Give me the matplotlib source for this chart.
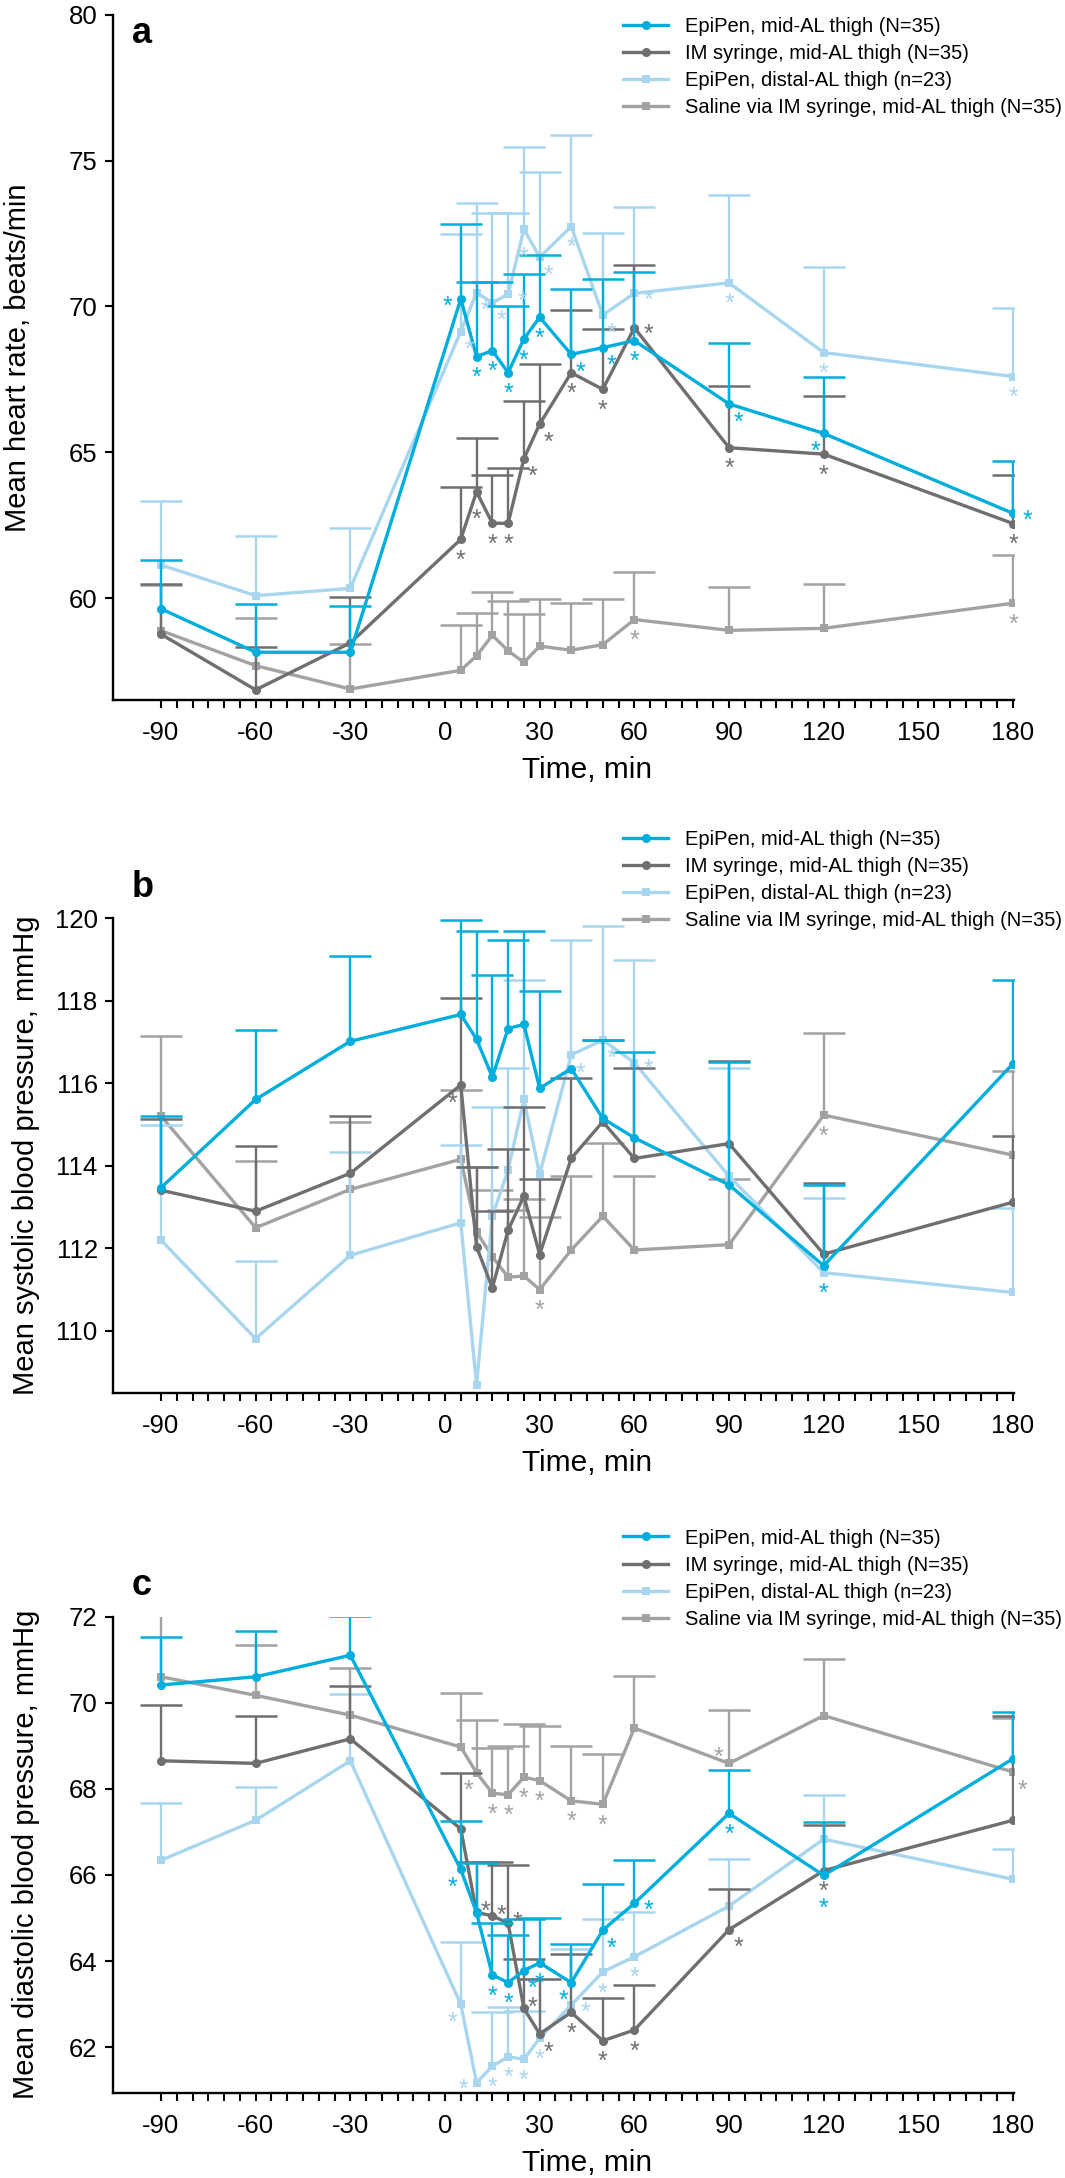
import matplotlib
matplotlib.use("Agg")
import matplotlib.pyplot as plt
import matplotlib.transforms as mtransforms
import numpy as np

plt.rcParams['font.family'] = ['Liberation Sans', 'DejaVu Sans']
plt.rcParams['axes.unicode_minus'] = False

# ---- data -------------------------------------------------------------
times = [-90, -60, -30, 5, 10, 15, 20, 25, 30, 40, 50, 60, 90, 120, 180]
x_ticks = [-90, -60, -30, 0, 30, 60, 90, 120, 150, 180]

labels = [
    "EpiPen, mid-AL thigh (N=35)",
    "IM syringe, mid-AL thigh (N=35)",
    "EpiPen, distal-AL thigh (n=23)",
    "Saline via IM syringe, mid-AL thigh (N=35)",
]

nan = float("nan")

# a: heart rate, beats/min (mean and SE)
hr_epi_mid = [59.64, 58.15, 58.15, 70.26, 68.28, 68.49, 67.73, 68.89, 69.63, 68.36, 68.59, 68.83, 66.66, 65.65, 62.91]
hr_epi_mid_se = [1.67, 1.65, 1.60, 2.56, 2.55, 2.34, 2.30, 2.23, 2.12, 2.24, 2.34, 2.34, 2.10, 1.95, 1.81]
hr_im = [58.77, 56.86, 58.47, 62.02, 63.65, 62.57, 62.57, 64.78, 65.97, 67.73, 67.16, 69.27, 65.16, 64.94, 62.56]
hr_im_se = [1.72, 1.48, 1.57, 1.78, 1.83, 1.66, 1.88, 1.98, 2.05, 2.15, 2.07, 2.15, 2.13, 1.98, 1.66]
hr_epi_dist = [61.14, 60.09, 60.34, 69.14, 70.47, 70.13, 70.42, 72.65, 71.69, 72.74, 69.71, 70.45, 70.81, 68.42, 67.60]
hr_epi_dist_se = [2.21, 2.06, 2.08, 3.35, 3.09, 3.06, 2.77, 2.81, 2.92, 3.14, 2.80, 2.95, 3.00, 2.92, 2.36]
hr_saline = [58.89, 57.69, 56.89, 57.53, 58.03, 58.73, 58.20, 57.80, 58.36, 58.22, 58.41, 59.27, 58.90, 58.97, 59.83]
hr_saline_se = [1.56, 1.62, 1.54, 1.54, 1.47, 1.49, 1.72, 1.66, 1.61, 1.61, 1.56, 1.63, 1.49, 1.52, 1.66]

hr_stars_epi_mid = [(5, 'l'), (10, 'b'), (15, 'b'), (20, 'b'), (25, 'b'), (30, 'b'), (40, 'br'),
                    (50, 'br'), (60, 'b'), (90, 'br'), (120, 'bl'), (180, 'r')]
hr_stars_im = [(5, 'b'), (10, 'bb'), (15, 'b'), (20, 'b'), (25, 'br'), (30, 'br'), (40, 'b'),
               (50, 'b'), (60, 'r'), (90, 'b'), (120, 'b'), (180, 'b')]
hr_stars_epi_dist = [(5, 'br'), (10, 'br'), (15, 'br'), (20, 'r'), (25, 'bb'), (30, 'br'), (40, 'b'),
                     (50, 'br'), (60, 'r'), (90, 'b'), (120, 'b'), (180, 'b')]
hr_stars_saline = [(60, 'b'), (180, 'b')]

# b: systolic blood pressure, mmHg
sbp_epi_mid = [113.47, 115.61, 117.02, 117.67, 117.07, 116.15, 117.33, 117.43, 115.88, 116.36, 115.15, 114.68, 113.54, 111.58, 116.48]
sbp_epi_mid_se = [1.74, 1.69, 2.08, 2.29, 2.63, 2.48, 2.15, 2.27, 2.37, nan, 1.90, 2.09, 2.97, 1.95, 2.02]
sbp_im = [113.41, 112.90, 113.82, 115.96, 112.04, 111.04, 112.44, 113.27, 111.85, 114.18, 115.07, 114.18, 114.54, 111.86, 113.12]
sbp_im_se = [1.73, 1.58, 1.40, 2.10, 1.94, 1.86, 1.98, 2.16, 1.83, 1.94, 1.98, 2.20, 2.01, 1.73, 1.61]
sbp_epi_dist = [112.20, 109.81, 111.83, 112.62, 108.69, 112.78, 113.90, 115.61, 113.80, 116.69, 117.05, 116.50, 113.75, 111.41, 110.93]
sbp_epi_dist_se = [2.79, 1.89, 2.51, 1.88, nan, 2.65, 2.48, 2.89, nan, 2.79, 2.77, 2.49, 2.63, 1.82, 2.04]
sbp_saline = [115.21, 112.50, 113.43, 114.16, 112.40, 111.80, 111.30, 111.33, 111.00, 111.96, 112.78, 111.96, 112.09, 115.23, 114.26]
sbp_saline_se = [1.95, 1.62, 1.64, 1.69, 1.58, 1.61, 1.63, 1.87, 1.77, 1.79, 1.77, 1.79, 1.58, 1.99, 2.05]

sbp_stars_epi_mid = [(120, 'bb')]
sbp_stars_im = [(5, 'bl')]
sbp_stars_epi_dist = [(40, 'br'), (50, 'br'), (60, 'r')]
sbp_stars_saline = [(30, 'b'), (120, 'b')]

# c: diastolic blood pressure, mmHg
dbp_epi_mid = [70.41, 70.60, 71.10, 66.13, 65.12, 63.68, 63.50, 63.78, 63.96, 63.50, 64.72, 65.34, 67.43, 65.99, 68.70]
dbp_epi_mid_se = [1.11, 1.07, 0.91, 1.12, 1.15, 1.20, 1.10, 1.19, 1.03, 0.90, 1.08, 1.01, 1.00, 1.25, 1.09]
dbp_im = [68.65, 68.59, 69.16, 67.07, 65.13, 65.05, 64.88, 62.90, 62.31, 62.81, 62.15, 62.40, 64.73, 66.10, 67.27]
dbp_im_se = [1.29, 1.10, 1.23, 1.29, 1.18, 1.24, 1.34, 1.14, 1.27, 1.35, 0.99, 1.04, 0.95, 1.05, 2.43]
dbp_epi_dist = [66.34, 67.27, 68.65, 63.00, 61.18, 61.56, 61.78, 61.72, 62.21, 62.98, 63.75, 64.10, 65.28, 66.83, 65.90]
dbp_epi_dist_se = [1.32, 0.78, 1.54, 1.44, nan, 1.26, 1.16, 1.13, 1.37, 1.29, 1.22, 1.05, 1.09, 1.02, 0.71]
dbp_saline = [70.60, 70.17, 69.71, 68.97, 68.37, 67.90, 67.86, 68.27, 68.19, 67.72, 67.64, 69.41, 68.59, 69.70, 68.39]
dbp_saline_se = [1.45, 1.16, 1.09, 1.26, 1.23, 1.04, 1.13, 1.24, 1.26, 1.27, 1.16, 1.22, 1.25, 1.32, 1.26]

dbp_stars_epi_mid = [(5, 'bl'), (15, 'b'), (20, 'b'), (25, 'br'), (30, 'b'), (40, 'bl'), (50, 'br'),
                     (60, 'r'), (90, 'b'), (120, 'bbb')]
dbp_stars_im = [(10, 'ar'), (15, 'ar'), (20, 'ar'), (25, 'ar'), (30, 'br'), (40, 'b'), (50, 'b'),
                (60, 'b'), (90, 'br'), (120, 'b')]
dbp_stars_epi_dist = [(5, 'bl'), (10, 'l'), (15, 'b'), (20, 'b'), (25, 'b'), (30, 'b'), (40, 'r'),
                      (50, 'b'), (60, 'b')]
dbp_stars_saline = [(10, 'bl'), (15, 'b'), (20, 'b'), (25, 'b'), (30, 'b'), (40, 'b'), (50, 'b'),
                    (90, 'al'), (180, 'br')]

# ---- style ------------------------------------------------------------
C_EPI_MID = '#00AEDD'
C_IM = '#6F6F71'
C_EPI_DIST = '#A8D6EE'
C_SALINE = '#A2A2A2'

STAR_FS = 18
# star offsets from the point, in pixels (right, down)
STAR_OFFSETS = {'b': (0, 14), 'bb': (0, 21), 'bbb': (0, 26), 'br': (9, 11), 'bl': (-8, 11),
                'r': (14, 0), 'l': (-13, 0), 'ar': (9, -8), 'al': (-11, -13)}

W, H = 1065, 2178
fig = plt.figure(figsize=(W / 100, H / 100), dpi=100)


def add_series(ax, mean, se, color, marker, ms, z):
    n = len(times)
    err = np.array([np.zeros(n), np.array(se, dtype=float)])
    _, caps, _ = ax.errorbar(times, mean, yerr=err, fmt='none', ecolor=color,
                             elinewidth=1.7, capsize=15, capthick=1.8, zorder=z)
    caps[0].set_visible(False)
    line, = ax.plot(times, mean, color=color, lw=2.4, marker=marker, ms=ms,
                    markeredgewidth=0, zorder=z + 0.5)
    return line


def add_stars(ax, mean, stars, color):
    for t, code in stars:
        v = mean[times.index(t)]
        dx, dy = STAR_OFFSETS[code]
        ax.annotate('*', (t, v), xytext=(dx * 0.72, -dy * 0.72 - 0.58 * STAR_FS),
                    textcoords='offset points', ha='center', va='baseline',
                    color=color, fontsize=STAR_FS, zorder=20, annotation_clip=False)


def draw_panel(rect, data, ylim, yticks, ylabel, ylabel_x, letter, letter_y, legend_top):
    ax = fig.add_axes(rect)
    (m1, s1, st1), (m2, s2, st2), (m3, s3, st3), (m4, s4, st4) = data
    l4 = add_series(ax, m4, s4, C_SALINE, 's', 6, 2)
    l3 = add_series(ax, m3, s3, C_EPI_DIST, 's', 6, 3)
    l2 = add_series(ax, m2, s2, C_IM, 'o', 6.5, 4)
    l1 = add_series(ax, m1, s1, C_EPI_MID, 'o', 6.5, 5)
    add_stars(ax, m4, st4, C_SALINE)
    add_stars(ax, m3, st3, C_EPI_DIST)
    add_stars(ax, m2, st2, C_IM)
    add_stars(ax, m1, st1, C_EPI_MID)

    ax.set_xlim(-105.2, 180.3)
    ax.set_ylim(*ylim)
    ax.set_xticks(x_ticks)
    ax.set_xticks(range(-90, 181, 5), minor=True)
    ax.set_yticks(yticks)
    for s in ('top', 'right'):
        ax.spines[s].set_visible(False)
    for s in ('left', 'bottom'):
        ax.spines[s].set_linewidth(1.7)
    ax.tick_params(axis='both', which='both', direction='out', width=1.5, length=5.5)
    ax.tick_params(axis='x', which='major', labelsize=18.5, pad=10)
    ax.tick_params(axis='y', which='major', labelsize=18.5, pad=5.5)

    lbl = ax.set_xlabel('Time, min', fontsize=21.5, va='baseline')
    tr = mtransforms.blended_transform_factory(ax.transData, ax.transAxes) + \
        mtransforms.ScaledTranslation(0, -0.78, fig.dpi_scale_trans)
    ax.xaxis.set_label_coords(45, 0, transform=tr)
    lbl.set_va('baseline')

    yc = rect[1] + rect[3] / 2
    fig.text(ylabel_x / W, yc, ylabel, rotation=90, rotation_mode='anchor',
             ha='center', va='baseline', fontsize=21)
    fig.text(132 / W, 1 - letter_y / H, letter, fontsize=26, fontweight='bold',
             ha='left', va='baseline')

    ax.legend([l1, l2, l3, l4], labels, loc='upper left',
              bbox_to_anchor=(623 / W, 1 - legend_top / H), bbox_transform=fig.transFigure,
              frameon=False, fontsize=14.5, handlelength=2.25, handletextpad=0.85,
              labelspacing=0.4, borderpad=0, borderaxespad=0, numpoints=1)
    return ax


left = 113 / W
width = 901 / W

draw_panel([left, 1478.2 / H, width, 685.1 / H],
           [(hr_epi_mid, hr_epi_mid_se, hr_stars_epi_mid),
            (hr_im, hr_im_se, hr_stars_im),
            (hr_epi_dist, hr_epi_dist_se, hr_stars_epi_dist),
            (hr_saline, hr_saline_se, hr_stars_saline)],
           (56.52, 80), [60, 65, 70, 75, 80], 'Mean heart rate, beats/min', 26.5,
           'a', 43, 17)

draw_panel([left, 785.3 / H, width, 474.3 / H],
           [(sbp_epi_mid, sbp_epi_mid_se, sbp_stars_epi_mid),
            (sbp_im, sbp_im_se, sbp_stars_im),
            (sbp_epi_dist, sbp_epi_dist_se, sbp_stars_epi_dist),
            (sbp_saline, sbp_saline_se, sbp_stars_saline)],
           (108.5, 120), [110, 112, 114, 116, 118, 120], 'Mean systolic blood pressure, mmHg', 33.7,
           'b', 896.8, 830)

draw_panel([left, 85.1 / H, width, 476.4 / H],
           [(dbp_epi_mid, dbp_epi_mid_se, dbp_stars_epi_mid),
            (dbp_im, dbp_im_se, dbp_stars_im),
            (dbp_epi_dist, dbp_epi_dist_se, dbp_stars_epi_dist),
            (dbp_saline, dbp_saline_se, dbp_stars_saline)],
           (60.94, 72), [62, 64, 66, 68, 70, 72], 'Mean diastolic blood pressure, mmHg', 33.7,
           'c', 1595.3, 1528.5)

fig.savefig('out.png', dpi=100)
